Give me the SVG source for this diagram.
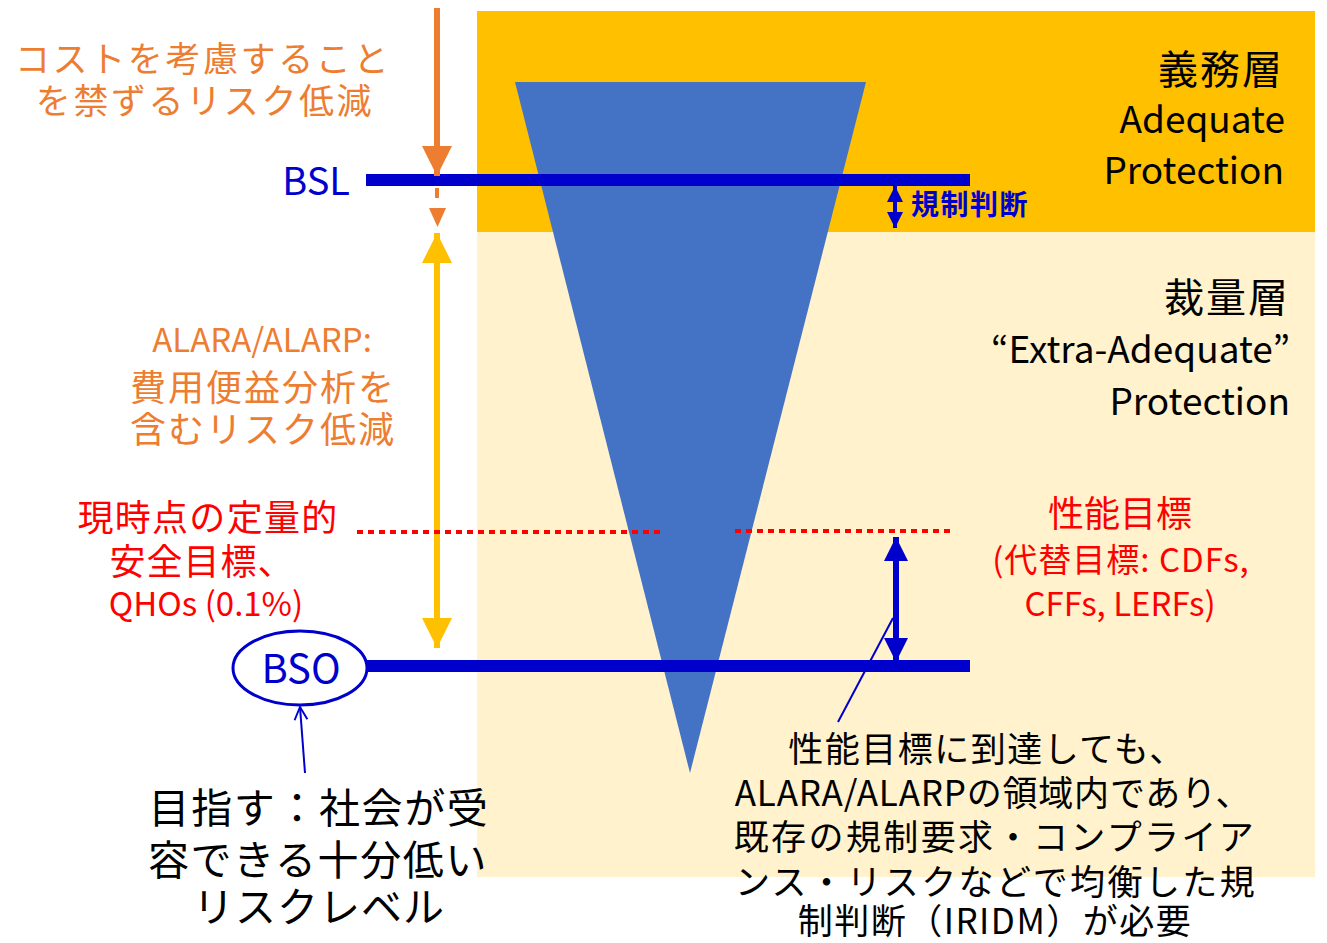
<svg xmlns="http://www.w3.org/2000/svg" width="1327" height="943" viewBox="0 0 1327 943">
<style>
text{font-family:"Noto Sans CJK JP","Noto Sans",sans-serif;}
.or{fill:#ED7D31;}
.rd{fill:#FF0000;}
.bl{fill:#0000CC;}
.bk{fill:#000000;}
.m{text-anchor:middle;}
.e{text-anchor:end;}
</style>
<defs>
<marker id="hOr" viewBox="0 0 10 10" refX="10" refY="5" markerWidth="5" markerHeight="5" markerUnits="strokeWidth" orient="auto"><path d="M0,0 L10,5 L0,10 z" fill="#ED7D31"/></marker>
<marker id="hY" viewBox="0 0 10 10" refX="10" refY="5" markerWidth="5" markerHeight="5" markerUnits="strokeWidth" orient="auto-start-reverse"><path d="M0,0 L10,5 L0,10 z" fill="#FFC000"/></marker>
<marker id="hB" viewBox="0 0 10 10" refX="10" refY="5" markerWidth="4" markerHeight="4" markerUnits="strokeWidth" orient="auto-start-reverse"><path d="M0,0 L10,5 L0,10 z" fill="#0000CC"/></marker>
<marker id="hOpen" viewBox="0 0 10 10" refX="9" refY="5" markerWidth="8" markerHeight="8" markerUnits="strokeWidth" orient="auto"><path d="M1,1 L9,5 L1,9" fill="none" stroke="#0000CC" stroke-width="1.2"/></marker>
</defs>
<rect width="1327" height="943" fill="#FFFFFF"/>
<g id="layers">
<rect x="477" y="11" width="838" height="221" fill="#FFC000"/>
<rect x="477" y="232" width="838" height="645" fill="#FFF2CC"/>
</g>
<g id="triangle">
<polygon points="515,82 866,82 690,773" fill="#4472C4"/>
</g>
<g id="connectors">
<line x1="366" y1="180" x2="970" y2="180" stroke="#0000CC" stroke-width="12"/>
<line x1="366" y1="666" x2="970" y2="666" stroke="#0000CC" stroke-width="12"/>
<line x1="437" y1="8" x2="437" y2="176" stroke="#ED7D31" stroke-width="6" marker-end="url(#hOr)"/>
<line x1="437" y1="188" x2="437" y2="198" stroke="#ED7D31" stroke-width="4"/>
<path d="M429,208 L446,208 L437.5,227 z" fill="#ED7D31"/>
<line x1="437" y1="233" x2="437" y2="648" stroke="#FFC000" stroke-width="6" marker-start="url(#hY)" marker-end="url(#hY)"/>
<line x1="357" y1="532" x2="662" y2="532" stroke="#FF0000" stroke-width="4" stroke-dasharray="6,5"/>
<line x1="735" y1="531" x2="952" y2="531" stroke="#FF0000" stroke-width="4" stroke-dasharray="6,5"/>
<line x1="895" y1="186" x2="895" y2="228" stroke="#0000CC" stroke-width="4" marker-start="url(#hB)" marker-end="url(#hB)"/>
<line x1="896" y1="537" x2="896" y2="662" stroke="#0000CC" stroke-width="6" marker-start="url(#hB)" marker-end="url(#hB)"/>
<line x1="838" y1="722" x2="893" y2="618" stroke="#0000CC" stroke-width="2"/>
<line x1="305" y1="773" x2="300" y2="707" stroke="#0000CC" stroke-width="2" marker-end="url(#hOpen)"/>
</g>
<g id="cost-label">
<text class="or m" font-size="35" letter-spacing="2.6"><tspan x="203" y="72">コストを考慮すること</tspan><tspan x="205" y="114">を禁ずるリスク低減</tspan></text>
</g>
<g id="bsl-label"><text class="bl e" x="350" y="195" font-size="38">BSL</text></g>
<g id="adequate">
<text class="bk e"><tspan x="1284" y="84" font-size="40" letter-spacing="2">義務層</tspan><tspan x="1285" y="133" font-size="37">Adequate</tspan><tspan x="1284" y="184" font-size="37">Protection</tspan></text>
</g>
<g id="judgement"><text class="bl" x="911" y="215" font-size="28" font-weight="bold" letter-spacing="1.5">規制判断</text></g>
<g id="extra">
<text class="bk e"><tspan x="1290" y="312" font-size="40" letter-spacing="2">裁量層</tspan><tspan x="1290" y="363" font-size="37">“Extra-Adequate”</tspan><tspan x="1290" y="415" font-size="37">Protection</tspan></text>
</g>
<g id="alara">
<text class="or m"><tspan x="262" y="352" font-size="33">ALARA/ALARP:</tspan><tspan x="263" y="401" font-size="36" letter-spacing="2">費用便益分析を</tspan><tspan x="263" y="443" font-size="36" letter-spacing="2">含むリスク低減</tspan></text>
</g>
<g id="qho">
<text class="rd m"><tspan x="208" y="531" font-size="36" letter-spacing="1.3">現時点の定量的</tspan><tspan x="202" y="575" font-size="36" letter-spacing="1">安全目標、</tspan><tspan x="206" y="616" font-size="33">QHOs (0.1%)</tspan></text>
</g>
<g id="bso">
<ellipse cx="300" cy="668" rx="67" ry="37" fill="#FFFFFF" stroke="#0000CC" stroke-width="3"/>
<text class="bl m" x="301" y="683" font-size="40">BSO</text>
</g>
<g id="perf">
<text class="rd m"><tspan x="1120" y="527" font-size="36">性能目標</tspan><tspan x="1121" y="572" font-size="33" letter-spacing="1">(代替目標: CDFs,</tspan><tspan x="1120" y="616" font-size="33">CFFs, LERFs)</tspan></text>
</g>
<g id="note">
<text class="bk m" font-size="35"><tspan x="987" y="762" letter-spacing="1.5">性能目標に到達しても、</tspan><tspan x="993" y="806" letter-spacing="0.8">ALARA/ALARPの領域内であり、</tspan><tspan x="995" y="850" letter-spacing="2.4">既存の規制要求・コンプライア</tspan><tspan x="996" y="895" letter-spacing="2.4">ンス・リスクなどで均衡した規</tspan><tspan x="995" y="934" letter-spacing="1.5">制判断（IRIDM）が必要</tspan></text>
</g>
<g id="aim">
<text class="bk m" font-size="41"><tspan x="319" y="823" letter-spacing="1.6">目指す：社会が受</tspan><tspan x="318" y="875" letter-spacing="1.6">容できる十分低い</tspan><tspan x="319" y="922" letter-spacing="1">リスクレベル</tspan></text>
</g>
</svg>
